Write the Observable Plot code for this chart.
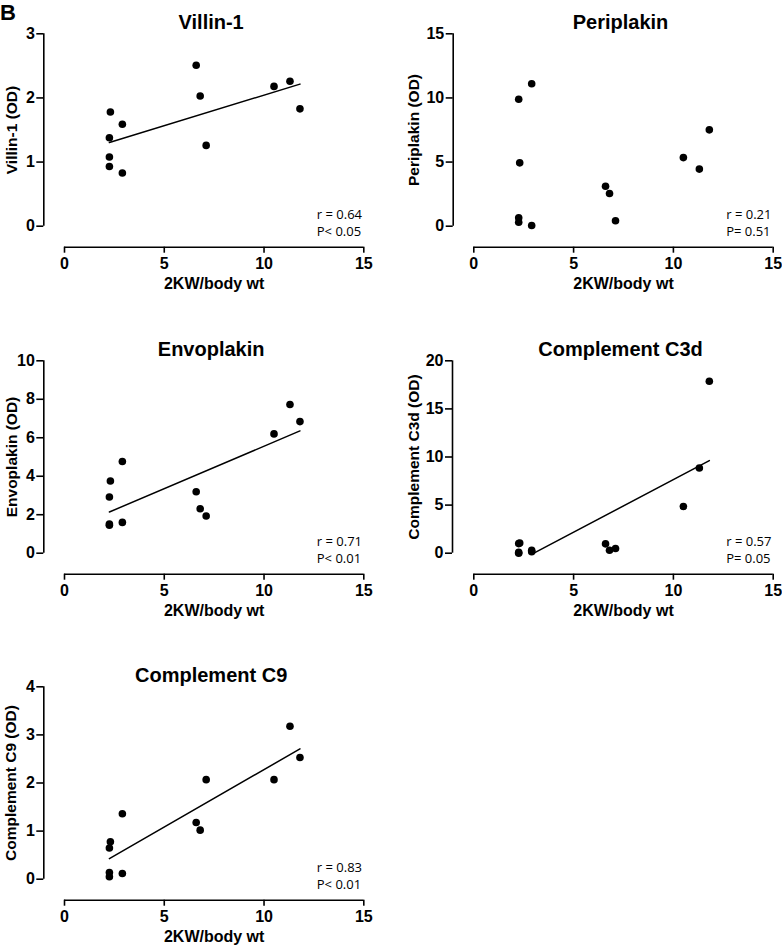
<!DOCTYPE html>
<html>
<head>
<meta charset="utf-8">
<script src="https://cdn.jsdelivr.net/npm/d3@7"></script>
<script src="https://cdn.jsdelivr.net/npm/@observablehq/plot@0.6"></script>
<style>
  body { margin: 0; background: #fff; }
  #fig { position: relative; width: 782px; height: 945px; overflow: hidden; background: #fff; }
  .panel { position: absolute; }
  #tag { position: absolute; left: 0px; top: 2px; font: bold 22px "Liberation Sans", Arial, sans-serif; line-height: 1; color: #000; }
</style>
</head>
<body>
<div id="fig"><div id="tag">B</div></div>
<script>
// ---- data ----
const kwRatio    = [2.25, 2.25, 2.25, 2.3, 2.9, 2.9, 6.6, 6.8, 7.1, 10.5, 11.3, 11.8];
const villin1    = [1.38, 1.08, 0.93, 1.78, 1.59, 0.83, 2.51, 2.03, 1.26, 2.18, 2.26, 1.83];
const periplakin = [9.9, 0.65, 0.31, 4.94, 11.1, 0.05, 3.12, 2.55, 0.42, 5.35, 4.45, 7.51];
const envoplakin = [2.92, 1.52, 1.45, 3.75, 4.77, 1.60, 3.19, 2.31, 1.93, 6.20, 7.73, 6.84];
const c3d        = [1.0, 0.1, 0.0, 1.05, 0.3, 0.15, 0.97, 0.31, 0.49, 4.86, 8.85, 17.88];
const c9         = [0.65, 0.14, 0.05, 0.78, 1.36, 0.12, 1.18, 1.02, 2.07, 2.07, 3.18, 2.53];

const xTicks = [0, 5, 10, 15];
const villinTicks = [0, 1, 2, 3];
const periplakinTicks = [0, 5, 10, 15];
const envoplakinTicks = [0, 2, 4, 6, 8, 10];
const c3dTicks = [0, 5, 10, 15, 20];
const c9Ticks = [0, 1, 2, 3, 4];

const xLabel = "2KW/body wt";
const titles = ["Villin-1", "Periplakin", "Envoplakin", "Complement C3d", "Complement C9"];
const yLabels = ["Villin-1 (OD)", "Periplakin (OD)", "Envoplakin (OD)", "Complement C3d (OD)", "Complement C9 (OD)"];
const statsR = ["r = 0.64", "r = 0.21", "r = 0.71", "r = 0.57", "r = 0.83"];
const statsP = ["P< 0.05", "P= 0.51", "P< 0.01", "P= 0.05", "P< 0.01"];
const showFit = [true, false, true, true, true];
const seriesValues = [villin1, periplakin, envoplakin, c3d, c9];
const seriesTicks = [villinTicks, periplakinTicks, envoplakinTicks, c3dTicks, c9Ticks];

// ---- layout (positions only) ----
const layout = [
  {left: 0,   top: 0,     width: 390, marginLeft: 43.3, insetLeft: 20.7, marginRight: 26.7, ylabX: 11.2},
  {left: 390, top: 0,     width: 392, marginLeft: 62.7, insetLeft: 20.6, marginRight: 9.3,  ylabX: 23.8},
  {left: 0,   top: 327.4, width: 390, marginLeft: 43.3, insetLeft: 20.7, marginRight: 26.7, ylabX: 11.2},
  {left: 390, top: 327.4, width: 392, marginLeft: 62.0, insetLeft: 21.3, marginRight: 9.3,  ylabX: 23.8},
  {left: 0,   top: 652.7, width: 390, marginLeft: 43.3, insetLeft: 20.7, marginRight: 26.7, ylabX: 10.3}
];
const H = 290, marginTop = 33.3, marginBottom = 43.3, insetBottom = 21;
const FONT = '"Liberation Sans", Arial, sans-serif';

function fitLine(xs, ys, yMin) {
  const n = xs.length;
  const mx = d3.mean(xs), my = d3.mean(ys);
  let sxy = 0, sxx = 0;
  for (let i = 0; i < n; i++) { sxy += (xs[i] - mx) * (ys[i] - my); sxx += (xs[i] - mx) ** 2; }
  const b = sxy / sxx, a = my - b * mx;
  let x1 = d3.min(xs);
  const x2 = d3.max(xs);
  if (a + b * x1 < yMin) x1 = (yMin - a) / b;
  return [{x: x1, y: a + b * x1}, {x: x2, y: a + b * x2}];
}

const fig = document.getElementById("fig");
seriesValues.forEach((vals, i) => {
  const L = layout[i];
  const yT = seriesTicks[i];
  const y0 = yT[0], y1 = yT[yT.length - 1];
  const xMid = (xTicks[0] + xTicks[xTicks.length - 1]) / 2;
  const data = kwRatio.map((x, j) => ({x, y: vals[j]}));
  const marks = [
    Plot.ruleX([xTicks[0]], {y1: y0, y2: y1, dx: -L.insetLeft, strokeWidth: 1.6}),
    Plot.ruleY([y0], {x1: xTicks[0], x2: xTicks[xTicks.length - 1], dy: insetBottom, strokeWidth: 1.6}),
    Plot.axisY({ticks: yT, tickSize: 7, tickPadding: 2, strokeWidth: 1.6, label: null,
      fontSize: 16, fontWeight: "bold", fontFamily: FONT, tickFormat: d => String(d)}),
    Plot.axisX({ticks: xTicks, tickSize: 6, tickPadding: 4, strokeWidth: 1.6, label: null,
      fontSize: 16, fontWeight: "bold", fontFamily: FONT, tickFormat: d => String(d)}),
    Plot.dot(data, {x: "x", y: "y", r: 3.8, fill: "black", stroke: "none"}),
    Plot.text([titles[i]], {x: xMid, frameAnchor: "top", lineAnchor: "bottom", dy: -5, dx: -3,
      fontSize: 20, fontWeight: "bold", fontFamily: FONT}),
    Plot.text([xLabel], {x: xMid, frameAnchor: "bottom", lineAnchor: "bottom", dy: 41.5,
      fontSize: 16, fontWeight: "bold", fontFamily: FONT}),
    Plot.text([yLabels[i]], {y: (y0 + y1) / 2, frameAnchor: "left", rotate: -90, lineAnchor: "middle",
      textAnchor: "middle", dx: L.ylabX - L.marginLeft, fontSize: 15.5, fontWeight: "bold", fontFamily: FONT}),
    Plot.text([statsR[i] + "\n" + statsP[i]], {x: xTicks[xTicks.length - 1], frameAnchor: "bottom",
      lineAnchor: "bottom", textAnchor: "start", dx: -47, dy: -11.5, lineHeight: 1.25,
      fontSize: 13, fontFamily: '"Open Sans", sans-serif'})
  ];
  if (showFit[i]) {
    marks.push(Plot.line(fitLine(kwRatio, vals, y0), {x: "x", y: "y", strokeWidth: 1.5, stroke: "black"}));
  }
  const svg = Plot.plot({
    width: L.width, height: H,
    marginLeft: L.marginLeft, marginRight: L.marginRight, marginTop, marginBottom,
    x: {domain: [xTicks[0], xTicks[xTicks.length - 1]], insetLeft: L.insetLeft},
    y: {domain: [y0, y1], insetBottom},
    style: {background: "transparent", color: "black", fontFamily: FONT, overflow: "visible"},
    marks
  });
  svg.classList.add("panel");
  svg.style.position = "absolute";
  svg.style.left = L.left + "px";
  svg.style.top = L.top + "px";
  fig.appendChild(svg);
});
</script>
</body>
</html>
